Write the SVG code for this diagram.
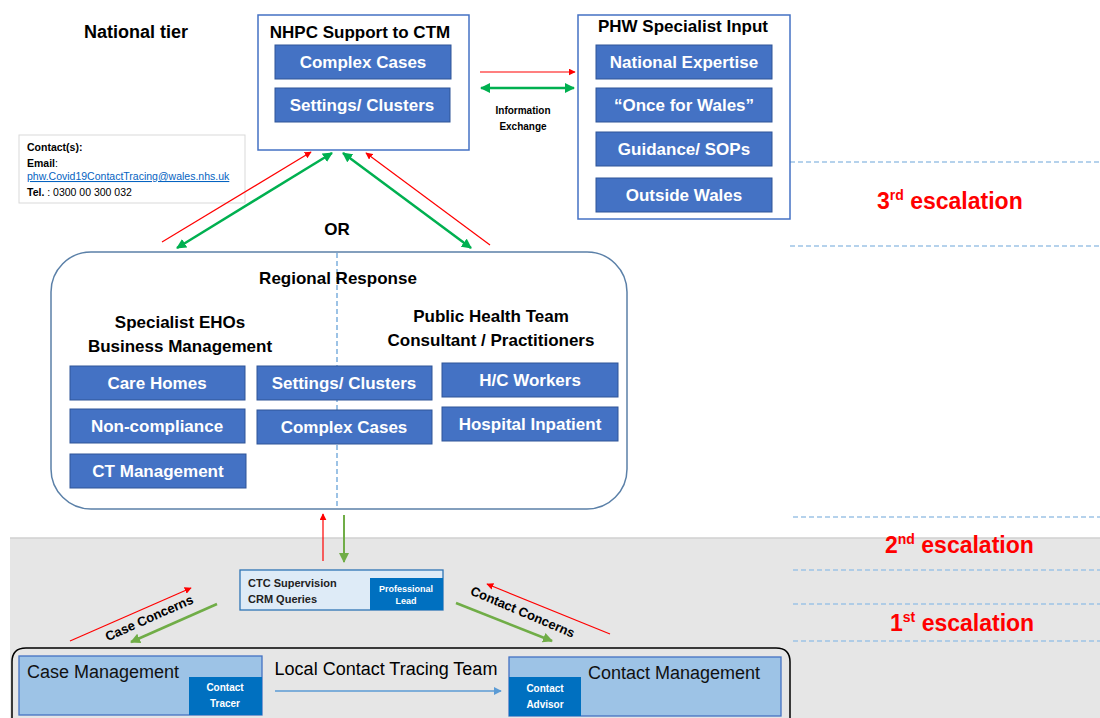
<svg xmlns="http://www.w3.org/2000/svg" width="1100" height="718" viewBox="0 0 1100 718">
<defs>
<style>
text{font-family:"Liberation Sans",Arial,sans-serif;}
.b{font-weight:bold;}
.t17{font-size:17px;font-weight:bold;fill:#000;}
.wb{font-size:17px;font-weight:bold;fill:#fff;}
.blk{fill:#4472c4;stroke:#2f5597;stroke-width:1;}
.frame{fill:#fff;stroke:#4472c4;stroke-width:1.5;}
.esc{font-size:23px;font-weight:bold;fill:#ff0000;}
.dash{stroke:#9dc3e6;stroke-width:1.3;stroke-dasharray:5,3;fill:none;}
.red{stroke:#ff0000;stroke-width:1.2;fill:none;marker-end:url(#ar);}
.grn{stroke:#00b050;stroke-width:2.5;fill:none;marker-end:url(#ag);marker-start:url(#ag);}
.olv{stroke:#70ad47;stroke-width:2.5;fill:none;marker-end:url(#ao);}
.sm{font-size:11px;font-weight:bold;fill:#222;}
.wsm{font-size:10px;font-weight:bold;fill:#fff;}
</style>
<marker id="ar" viewBox="0 0 10 10" refX="9" refY="5" markerWidth="7" markerHeight="7" orient="auto-start-reverse" markerUnits="userSpaceOnUse"><path d="M0,0 L10,5 L0,10 z" fill="#ff0000"/></marker>
<marker id="ag" viewBox="0 0 10 10" refX="9" refY="5" markerWidth="10" markerHeight="10" orient="auto-start-reverse" markerUnits="userSpaceOnUse"><path d="M0,0 L10,5 L0,10 z" fill="#00b050"/></marker>
<marker id="ao" viewBox="0 0 10 10" refX="9" refY="5" markerWidth="10" markerHeight="10" orient="auto-start-reverse" markerUnits="userSpaceOnUse"><path d="M0,0 L10,5 L0,10 z" fill="#70ad47"/></marker>
<marker id="ab" viewBox="0 0 10 10" refX="9" refY="5" markerWidth="8" markerHeight="8" orient="auto" markerUnits="userSpaceOnUse"><path d="M0,0 L10,5 L0,10 z" fill="#5b9bd5"/></marker>
</defs>
<rect width="1100" height="718" fill="#fff"/>
<!-- gray band -->
<rect x="10" y="538" width="1090" height="180" fill="#e6e6e6"/>
<line x1="10" y1="538" x2="1100" y2="538" stroke="#d0d0d0" stroke-width="1.5"/>

<!-- dashed escalation lines -->
<g id="levels">
<line class="dash" x1="790" y1="162" x2="1100" y2="162"/>
<line class="dash" x1="790" y1="246" x2="1100" y2="246"/>
<line class="dash" x1="793" y1="517" x2="1100" y2="517"/>
<line class="dash" x1="793" y1="570" x2="1100" y2="570"/>
<line class="dash" x1="793" y1="604" x2="1100" y2="604"/>
<line class="dash" x1="793" y1="641" x2="1100" y2="641"/>
<text class="esc" x="877" y="209">3<tspan font-size="14" dy="-9">rd</tspan><tspan dy="9"> escalation</tspan></text>
<text class="esc" x="885" y="553">2<tspan font-size="14" dy="-9">nd</tspan><tspan dy="9"> escalation</tspan></text>
<text class="esc" x="890" y="631">1<tspan font-size="14" dy="-9">st</tspan><tspan dy="9"> escalation</tspan></text>
</g>

<text x="136" y="38" font-size="18" class="b" text-anchor="middle">National tier</text>

<g id="contact-info">
<rect x="19" y="135" width="226" height="68" fill="#fff" stroke="#d9d9d9" stroke-width="1"/>
<text x="27" y="151" font-size="10.5" class="b">Contact(s):</text>
<text x="27" y="167" font-size="10.5"><tspan class="b">Email</tspan>:</text>
<text x="27" y="180" font-size="10.5" fill="#0563c1" text-decoration="underline">phw.Covid19ContactTracing@wales.nhs.uk</text>
<text x="27" y="196" font-size="10.5"><tspan class="b">Tel.</tspan> : 0300 00 300 032</text>
</g>

<g id="nhpc">
<rect class="frame" x="258" y="15" width="211" height="135"/>
<text class="t17" x="360" y="38" text-anchor="middle">NHPC Support to CTM</text>
<rect class="blk" x="275" y="45" width="176" height="34"/>
<text class="wb" x="363" y="68" text-anchor="middle">Complex Cases</text>
<rect class="blk" x="275" y="88" width="175" height="34"/>
<text class="wb" x="362" y="111" text-anchor="middle">Settings/ Clusters</text>
</g>

<g id="phw">
<rect class="frame" x="578" y="15" width="212" height="204"/>
<text class="t17" x="683" y="32" text-anchor="middle">PHW Specialist Input</text>
<rect class="blk" x="596" y="45" width="176" height="34"/>
<text class="wb" x="684" y="68" text-anchor="middle">National Expertise</text>
<rect class="blk" x="596" y="88" width="176" height="34"/>
<text class="wb" x="684" y="111" text-anchor="middle">“Once for Wales”</text>
<rect class="blk" x="596" y="132" width="176" height="34"/>
<text class="wb" x="684" y="155" text-anchor="middle">Guidance/ SOPs</text>
<rect class="blk" x="596" y="178" width="176" height="34"/>
<text class="wb" x="684" y="201" text-anchor="middle">Outside Wales</text>
</g>

<text class="t17" x="337" y="235" text-anchor="middle">OR</text>

<g id="regional">
<rect x="51" y="252" width="576" height="257" rx="40" fill="#fff" stroke="#5b80a8" stroke-width="1.5"/>
<line x1="337" y1="253" x2="337" y2="509" stroke="#5b9bd5" stroke-width="1.2" stroke-dasharray="5,3"/>
<text class="t17" x="338" y="284" text-anchor="middle">Regional Response</text>
<text class="t17" x="180" y="328" text-anchor="middle">Specialist EHOs</text>
<text class="t17" x="180" y="352" text-anchor="middle">Business Management</text>
<text class="t17" x="491" y="322" text-anchor="middle">Public Health Team</text>
<text class="t17" x="491" y="346" text-anchor="middle">Consultant / Practitioners</text>
<rect class="blk" x="70" y="366" width="175" height="34"/>
<text class="wb" x="157" y="389" text-anchor="middle">Care Homes</text>
<rect class="blk" x="257" y="366" width="175" height="34"/>
<text class="wb" x="344" y="389" text-anchor="middle">Settings/ Clusters</text>
<rect class="blk" x="442" y="363" width="176" height="34"/>
<text class="wb" x="530" y="386" text-anchor="middle">H/C Workers</text>
<rect class="blk" x="70" y="409" width="175" height="34"/>
<text class="wb" x="157" y="432" text-anchor="middle">Non-compliance</text>
<rect class="blk" x="257" y="410" width="175" height="34"/>
<text class="wb" x="344" y="433" text-anchor="middle">Complex Cases</text>
<rect class="blk" x="442" y="407" width="176" height="34"/>
<text class="wb" x="530" y="430" text-anchor="middle">Hospital Inpatient</text>
<rect class="blk" x="70" y="454" width="176" height="34"/>
<text class="wb" x="158" y="477" text-anchor="middle">CT Management</text>
</g>

<g id="ctc">
<rect x="240" y="570" width="203" height="40" fill="#deebf7" stroke="#2e75b6" stroke-width="1.3"/>
<text class="sm" x="248" y="587">CTC Supervision</text>
<text class="sm" x="248" y="603">CRM Queries</text>
<rect x="370" y="578" width="73" height="32" fill="#0070c0"/>
<text x="406" y="592" font-size="9" class="b" fill="#fff" text-anchor="middle">Professional</text>
<text x="406" y="604" font-size="9" class="b" fill="#fff" text-anchor="middle">Lead</text>
</g>

<g id="local-team">
<path d="M12,725 L12,662 Q12,648 26,648 L776,648 Q790,648 790,662 L790,725" fill="none" stroke="#000" stroke-width="1.5"/>
<text x="386" y="675" font-size="18" text-anchor="middle" fill="#000">Local Contact Tracing Team</text>
</g>

<g id="case-management">
<rect x="19" y="656" width="243" height="59" fill="#9dc3e6" stroke="#4472c4" stroke-width="1.3"/>
<text x="27" y="678" font-size="18" fill="#111">Case Management</text>
<rect x="189" y="677" width="73" height="38" fill="#0070c0"/>
<text class="wsm" x="225" y="691" text-anchor="middle">Contact</text>
<text class="wsm" x="225" y="707" text-anchor="middle">Tracer</text>
</g>

<g id="contact-management">
<rect x="509" y="657" width="272" height="59" fill="#9dc3e6" stroke="#4472c4" stroke-width="1.3"/>
<text x="588" y="679" font-size="18" fill="#111">Contact Management</text>
<rect x="509" y="677" width="72" height="39" fill="#0070c0"/>
<text class="wsm" x="545" y="692" text-anchor="middle">Contact</text>
<text class="wsm" x="545" y="708" text-anchor="middle">Advisor</text>
</g>

<g id="connectors">
<line class="red" x1="480" y1="72" x2="575" y2="72"/>
<line class="grn" x1="481" y1="88" x2="574" y2="88"/>
<text x="523" y="114" font-size="10" class="b" text-anchor="middle">Information</text>
<text x="523" y="130" font-size="10" class="b" text-anchor="middle">Exchange</text>

<line class="red" x1="162" y1="242" x2="311" y2="152"/>
<line class="grn" x1="177" y1="248" x2="332" y2="153"/>
<line class="grn" x1="343" y1="153" x2="471" y2="248"/>
<line class="red" x1="490" y1="245" x2="366" y2="153"/>

<line class="red" x1="323" y1="561" x2="323" y2="514"/>
<line x1="344" y1="515" x2="344" y2="562" stroke="#70ad47" stroke-width="2" marker-end="url(#ao)"/>

<line class="red" x1="70" y1="641" x2="191" y2="588"/>
<line class="olv" x1="217" y1="604" x2="131" y2="642"/>
<text x="151" y="622" font-size="13" class="b" text-anchor="middle" transform="rotate(-24 151 622)">Case Concerns</text>

<line class="red" x1="610" y1="634" x2="487" y2="584"/>
<line class="olv" x1="456" y1="603" x2="552" y2="641"/>
<text x="521" y="616" font-size="13" class="b" text-anchor="middle" transform="rotate(23 521 616)">Contact Concerns</text>

<line x1="275" y1="691" x2="501" y2="691" stroke="#5b9bd5" stroke-width="1.5" marker-end="url(#ab)"/>
</g>
</svg>
